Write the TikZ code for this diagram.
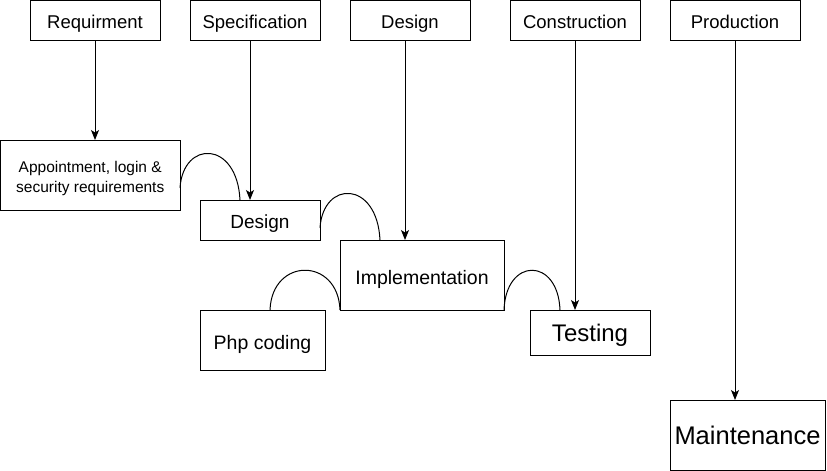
\documentclass[tikz,border=0pt]{standalone}
\usepackage{fontspec}
\setmainfont{Liberation Sans}
\usetikzlibrary{arrows.meta,calc}
\begin{document}
\begin{tikzpicture}[x=1pt,y=-1pt,
  box/.style={draw,line width=1pt,inner sep=0pt,outer sep=0pt,anchor=north west,align=center},
  toplbl/.style={box,minimum height=39.5pt,text height=16pt,text depth=0pt,font=\fontsize{18.5}{22}\selectfont},
  arr/.style={line width=1pt,-{Stealth[length=10pt,width=8pt,inset=2.5pt]}},
  curve/.style={line width=1pt}]
\useasboundingbox (0,0) rectangle (827,471);
% top row
\node[toplbl,minimum width=130pt] (req) at (30,0.5) {Requirment};
\node[toplbl,minimum width=130pt] (spec) at (190,0.5) {Specification};
\node[toplbl,minimum width=120pt] (des) at (350,0.5) {Design};
\node[toplbl,minimum width=130pt] (con) at (510,0.5) {Construction};
\node[toplbl,minimum width=130pt] (prod) at (670,0.5) {Production};
% lower boxes
\node[box,minimum width=179.5pt,minimum height=70pt,font=\fontsize{15.5}{20}\selectfont] (appt) at (0.5,140) {\rule{0pt}{18.7pt}Appointment, login \&\\security requirements};
\node[box,minimum width=120pt,minimum height=40pt,text height=16.5pt,text depth=0pt,font=\fontsize{19}{22}\selectfont] (des2) at (200,200) {Design};
\node[box,minimum width=164pt,minimum height=70pt,text height=18pt,text depth=0pt,font=\fontsize{19.5}{22}\selectfont] (impl) at (340,240) {Implementation};
\node[box,minimum width=125pt,minimum height=60pt,text height=18pt,text depth=0pt,font=\fontsize{19.5}{22}\selectfont] (php) at (200,310) {Php coding};
\node[box,minimum width=120pt,minimum height=45pt,text height=17pt,text depth=0pt,font=\fontsize{24}{28}\selectfont] (test) at (530,310) {Testing};
\node[box,minimum width=155pt,minimum height=70pt,text height=18.5pt,text depth=0pt,font=\fontsize{25.5}{30}\selectfont] (maint) at (670,400) {Maintenance};
% vertical arrows
\coordinate (s1) at ($(spec.south)+(-5,0)$);
\coordinate (s2) at ($(des.south)+(-5,0)$);
\draw[arr] (req.south) -- (req.south |- appt.north);
\draw[arr] (s1) -- (s1 |- des2.north);
\draw[arr] (s2) -- (s2 |- impl.north);
\draw[arr] (con.south) -- (con.south |- test.north);
\draw[arr] (prod.south) -- (prod.south |- maint.north);
% curved links
\coordinate (c1a) at ($(appt.south east)+(0,-22)$);
\coordinate (c1b) at ($(des2.north west)+(40,0)$);
\draw[curve] (c1a) .. controls +(3,-48) and +(-3,-60) .. (c1b);
\coordinate (c2a) at ($(des2.east)+(0,8)$);
\coordinate (c2b) at ($(impl.north west)+(40,0)$);
\draw[curve] (c2a) .. controls +(3,-48) and +(-3,-60) .. (c2b);
\coordinate (c3a) at ($(php.north west)+(70,0)$);
\draw[curve] (c3a) .. controls +(2,-53) and +(-2,-53) .. (impl.south west);
\coordinate (c4b) at ($(test.north west)+(30,0)$);
\draw[curve] (impl.south east) .. controls +(2,-53) and +(-2,-53) .. (c4b);
\end{tikzpicture}
\end{document}
